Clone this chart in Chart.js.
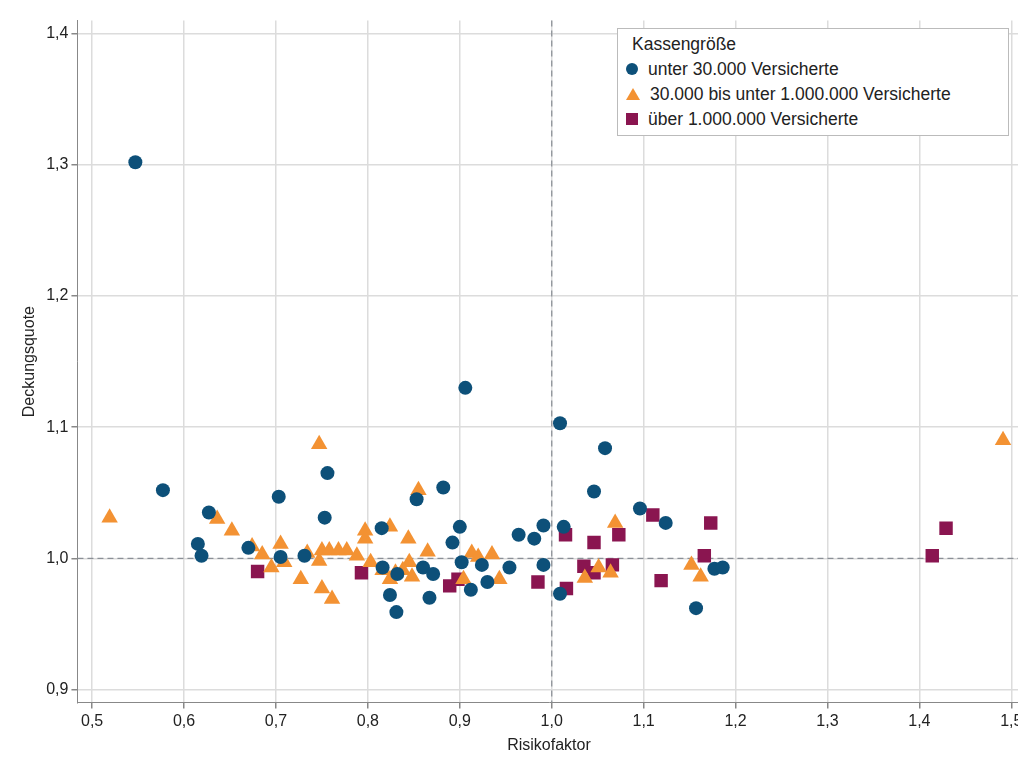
<!DOCTYPE html>
<html><head><meta charset="utf-8">
<script src="https://cdn.jsdelivr.net/npm/chart.js@4"></script>
<style>
body{margin:0;background:#fff;font-family:"Liberation Sans",Arial,sans-serif}
#wrap{position:absolute;left:0;top:8px;width:1030px;height:753px}
#legend{position:absolute;left:617px;top:28px;width:392px;padding:3px 10px 3px 8px;border:1px solid #bbb;background:#fff;color:#222;font-size:17.5px;line-height:25px;box-sizing:border-box;white-space:nowrap}
#legend .t{padding-left:6px}
#legend span.m{display:inline-block;vertical-align:middle;margin:0 10px 3px 0}
</style>
</head><body><div id="wrap"><canvas id="c"></canvas></div>
<div id="legend"></div>
<script>
// ===== DATA =====
const smallX = [0.547,0.577,0.615,0.619,0.627,0.670,0.703,0.705,0.753,0.756,0.731,0.815,0.853,0.882,0.900,0.892,0.964,0.816,0.832,0.824,0.831,0.860,0.871,0.867,0.902,0.912,0.924,0.930,0.954,0.906,1.009,1.058,1.046,1.096,1.124,0.991,0.981,1.013,0.991,1.157,1.177,1.186,1.009];
const smallY = [1.302,1.052,1.011,1.002,1.035,1.008,1.047,1.001,1.031,1.065,1.002,1.023,1.045,1.054,1.024,1.012,1.018,0.993,0.988,0.972,0.959,0.993,0.988,0.970,0.997,0.976,0.995,0.982,0.993,1.130,1.103,1.084,1.051,1.038,1.027,1.025,1.015,1.024,0.995,0.962,0.992,0.993,0.973];
const midX = [0.519,1.491,0.747,0.636,0.652,0.674,0.685,0.695,0.705,0.709,0.727,0.734,0.747,0.750,0.750,0.758,0.761,0.768,0.777,0.788,0.797,0.797,0.803,0.824,0.816,0.824,0.830,0.838,0.844,0.845,0.848,0.865,0.913,0.920,0.935,0.943,0.904,1.069,1.036,1.051,1.064,1.152,1.162,0.855];
const midY = [1.031,1.090,1.087,1.030,1.021,1.009,1.003,0.993,1.011,0.997,0.984,1.004,0.998,1.006,0.977,1.006,0.969,1.006,1.006,1.002,1.021,1.015,0.997,1.024,0.991,0.984,0.989,0.991,1.015,0.997,0.986,1.005,1.004,1.001,1.003,0.984,0.984,1.027,0.985,0.993,0.989,0.995,0.986,1.052];
const bigX = [0.680,0.793,0.889,0.898,0.985,1.015,1.016,1.035,1.046,1.046,1.066,1.073,1.110,1.119,1.166,1.173,1.414,1.429];
const bigY = [0.990,0.989,0.979,0.984,0.982,1.018,0.977,0.994,1.012,0.989,0.995,1.018,1.033,0.983,1.002,1.027,1.002,1.023];
const xTicks = [0.5,0.6,0.7,0.8,0.9,1.0,1.1,1.2,1.3,1.4,1.5];
const yTicks = [0.9,1.0,1.1,1.2,1.3,1.4];

const pts = (xs, ys) => xs.map((x, i) => ({x: x, y: ys[i]}));
const fmt = v => v.toFixed(1).replace(".", ",");
const font = {family: "Liberation Sans, Arial", size: 16};

// ===== REFERENCE LINES =====
const refLines = {
    id: "refLines",
    beforeDatasetsDraw(chart) {
        const {ctx, chartArea: a, scales: {x, y}} = chart;
        ctx.save();
        ctx.strokeStyle = "#8a8f96";
        ctx.lineWidth = 1.2;
        ctx.setLineDash([6, 4]);
        const px = x.getPixelForValue(1.0), py = y.getPixelForValue(1.0);
        ctx.beginPath();
        ctx.moveTo(px, a.top); ctx.lineTo(px, a.bottom);
        ctx.moveTo(a.left, py); ctx.lineTo(a.right, py);
        ctx.stroke();
        ctx.restore();
    }
};

const chart = new Chart(document.getElementById("c"), {
    type: "scatter",
    data: {
        datasets: [
            {label: "unter 30.000 Versicherte", data: pts(smallX, smallY), pointStyle: "circle", pointRadius: 7, backgroundColor: "#0d5079", borderWidth: 0},
            {label: "30.000 bis unter 1.000.000 Versicherte", data: pts(midX, midY), pointStyle: "triangle", pointRadius: 9.5, backgroundColor: "#f39233", borderWidth: 0},
            {label: "über 1.000.000 Versicherte", data: pts(bigX, bigY), pointStyle: "rect", pointRadius: 9.5, backgroundColor: "#8a1550", borderWidth: 0}
        ]
    },
    options: {
        responsive: true, maintainAspectRatio: false, animation: false,
        layout: {padding: {top: 4, left: 16, right: 4, bottom: 2}},
        plugins: {tooltip: {enabled: false}, legend: {display: false}},
        scales: {
            x: {
                type: "linear", min: 0.484, max: 1.51,
                afterBuildTicks: s => { s.ticks = xTicks.map(v => ({value: v})); },
                ticks: {callback: fmt, color: "#222", font: font},
                grid: {color: "#dcdcdc", lineWidth: 1.5, tickColor: "#888", tickLength: 6},
                border: {color: "#888"},
                title: {display: true, text: "Risikofaktor", color: "#222", font: font, padding: {top: 2}}
            },
            y: {
                type: "linear", min: 0.89, max: 1.41,
                afterBuildTicks: s => { s.ticks = yTicks.map(v => ({value: v})); },
                ticks: {callback: fmt, color: "#222", font: font},
                grid: {color: "#dcdcdc", lineWidth: 1.5, tickColor: "#888", tickLength: 6},
                border: {color: "#888"},
                title: {display: true, text: "Deckungsquote", color: "#222", font: font}
            }
        }
    },
    plugins: [refLines]
});

// ===== LEGEND =====
const marks = [
    c => `<span class="m" style="width:12px;height:12px;border-radius:50%;background:${c}"></span>`,
    c => `<span class="m" style="width:0;height:0;border-left:7px solid transparent;border-right:7px solid transparent;border-bottom:12px solid ${c}"></span>`,
    c => `<span class="m" style="width:12px;height:12px;background:${c}"></span>`
];
let html = `<div class="t">Kassengröße</div>`;
chart.data.datasets.forEach((d, i) => {
    html += `<div>${marks[i](d.backgroundColor)}${d.label}</div>`;
});
document.getElementById("legend").innerHTML = html;
</script></body></html>
